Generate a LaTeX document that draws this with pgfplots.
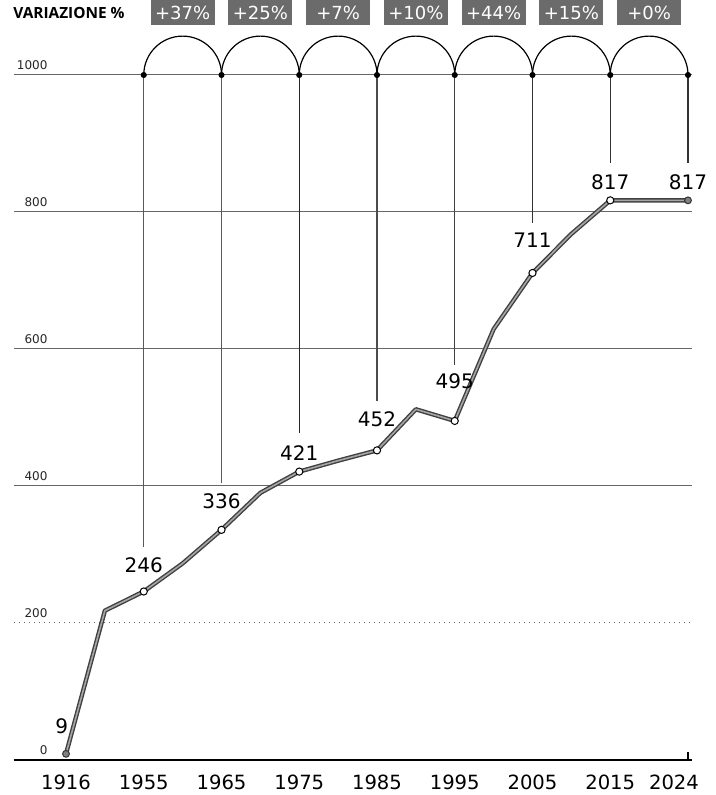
\documentclass[border=0pt]{standalone}
\usepackage{fontspec}
\setmainfont{DejaVu Sans}
\newfontfamily\osans{Open Sans}
\usepackage{pgfplots}
\pgfplotsset{compat=1.18}
\begin{document}
\begin{tikzpicture}
\begin{axis}[
 x=38.875pt, y=0.3425pt,
 xmin=-0.67, xmax=8.05, ymin=0, ymax=1000,
 clip=false,
 /pgf/number format/assume math mode=true,
 /pgf/number format/1000 sep={},
 axis x line=bottom, axis y line=left,
 x axis line style={-, line width=1pt, black},
 y axis line style={draw=none},
 xtick={0,...,8},
 xticklabels={1916,1955,1965,1975,1985,1995,2005,2015,\hspace*{-14pt}2024},
 xtick style={draw=none},
 ytick={0,400,600,800,1000},
 extra y ticks={200},
 extra y tick style={grid=major, major grid style={dotted, black!60, line width=0.5pt}},
 ytick style={draw=none},
 ymajorgrids,
 major grid style={black!60, line width=0.5pt},
 yticklabel style={anchor=south east, inner sep=0pt, xshift=17pt, yshift=2.5pt, font=\fontsize{6}{7}\selectfont, text=black!85},
 xticklabel style={anchor=north, inner sep=0pt, yshift=-7.5pt, font=\fontsize{9.8}{11}\selectfont},
 major tick length=0pt,
]
% connectors
\addplot[black!65, line width=0.6pt] coordinates {(1,1000) (1,311)};
\addplot[black!65, line width=0.6pt] coordinates {(2,1000) (2,404)};
\addplot[black!85, line width=0.6pt] coordinates {(3,1000) (3,477)};
\addplot[black!70, line width=0.6pt] coordinates {(4,1000) (4,524)};
\addplot[black!75, line width=0.6pt] coordinates {(5,1000) (5,577)};
\addplot[black!80, line width=0.6pt] coordinates {(6,1000) (6,784)};
\addplot[black!80, line width=0.6pt] coordinates {(7,1000) (7,871)};
\addplot[black!80, line width=0.6pt] coordinates {(8,1000) (8,871)};
\addplot[only marks, mark=*, mark size=1.3pt, black] coordinates {(1,1000) (2,1000) (3,1000) (4,1000) (5,1000) (6,1000) (7,1000) (8,1000)};
% arches
\draw[line width=0.6pt] (axis cs:1,1000) arc[start angle=180, end angle=0, radius=19.44pt];
\draw[line width=0.6pt] (axis cs:2,1000) arc[start angle=180, end angle=0, radius=19.44pt];
\draw[line width=0.6pt] (axis cs:3,1000) arc[start angle=180, end angle=0, radius=19.44pt];
\draw[line width=0.6pt] (axis cs:4,1000) arc[start angle=180, end angle=0, radius=19.44pt];
\draw[line width=0.6pt] (axis cs:5,1000) arc[start angle=180, end angle=0, radius=19.44pt];
\draw[line width=0.6pt] (axis cs:6,1000) arc[start angle=180, end angle=0, radius=19.44pt];
\draw[line width=0.6pt] (axis cs:7,1000) arc[start angle=180, end angle=0, radius=19.44pt];
% small tick at 2024
\draw[line width=0.6pt] (axis cs:8,0) -- (axis cs:8,12);
% data line
\addplot[black!75, line width=2.2pt, line join=round] coordinates {
(0,9) (0.5,218) (1,246) (1.5,287) (2,336) (2.5,390) (3,421) (3.5,437) (4,452) (4.5,512) (5,495) (5.5,629) (6,711) (6.5,768) (7,817) (7.5,817) (8,817)};
\addplot[black!35, line width=0.8pt, line join=round] coordinates {
(0,9) (0.5,218) (1,246) (1.5,287) (2,336) (2.5,390) (3,421) (3.5,437) (4,452) (4.5,512) (5,495) (5.5,629) (6,711) (6.5,768) (7,817) (7.5,817) (8,817)};
\addplot[only marks, mark=*, mark size=1.8pt, mark options={fill=white, draw=black, line width=0.5pt}] coordinates {(1,246) (2,336) (3,421) (4,452) (5,495) (6,711) (7,817)};
\addplot[only marks, mark=*, mark size=1.7pt, mark options={fill=black!50, draw=black!80, line width=0.5pt}] coordinates {(0,9) (8,817)};
% value labels
\begin{scope}[every node/.style={font=\fontsize{10}{12}\selectfont, inner sep=0pt}]
\node at (axis cs:-0.055,50) {9};
\node at (axis cs:1,285) {246};
\node at (axis cs:2,378) {336};
\node at (axis cs:3,448) {421};
\node at (axis cs:4,498) {452};
\node at (axis cs:5,553) {495};
\node at (axis cs:6,759) {711};
\node at (axis cs:7,843) {817};
\node at (axis cs:8,843) {817};
\end{scope}
% boxes
\begin{scope}[every node/.style={fill=black!58, text=white, minimum width=32pt, minimum height=12.5pt, inner sep=0pt, font=\fontsize{9}{10}\selectfont}]
\node at (axis cs:1.5,1091.2) {+37\%};
\node at (axis cs:2.5,1091.2) {+25\%};
\node at (axis cs:3.5,1091.2) {+7\%};
\node at (axis cs:4.5,1091.2) {+10\%};
\node at (axis cs:5.5,1091.2) {+44\%};
\node at (axis cs:6.5,1091.2) {+15\%};
\node at (axis cs:7.5,1091.2) {+0\%};
\end{scope}
\node[anchor=west, inner sep=0pt, font=\osans\bfseries\fontsize{7.7}{9}\selectfont] at (axis cs:-0.682,1091.2) {VARIAZIONE \%};
\coordinate (bbl) at (axis cs:-0.849,-51.1);
\coordinate (btr) at (axis cs:8.360,1109.5);
\end{axis}
\pgfresetboundingbox
\path[use as bounding box] (bbl) rectangle (btr);
\end{tikzpicture}
\end{document}
